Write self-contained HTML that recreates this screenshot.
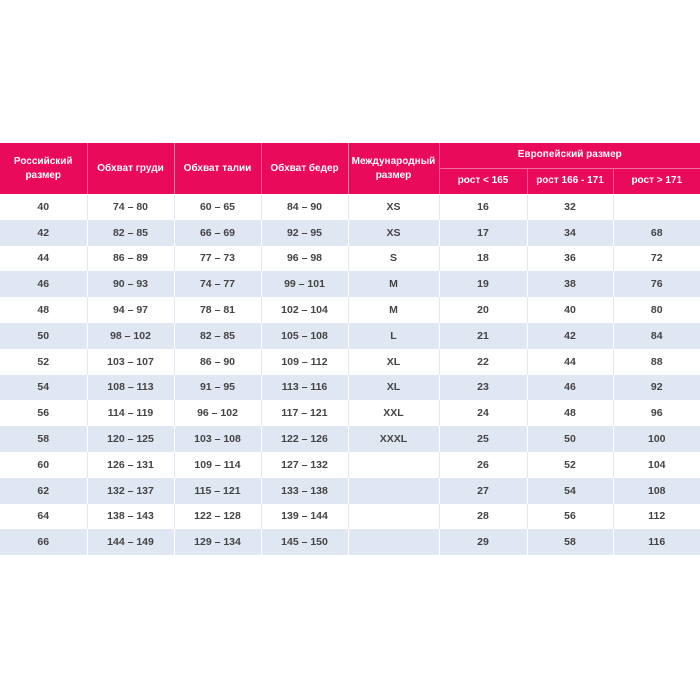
<!DOCTYPE html><html><head><meta charset="utf-8"><style>
body{margin:0;width:700px;height:700px;background:#fff;font-family:"Liberation Sans",sans-serif;}
table{position:absolute;left:0;top:143px;width:700px;border-collapse:collapse;table-layout:fixed;}
td,th{text-align:center;font-weight:bold;padding:0;}
th{background:#e90a5c;color:#fff;font-size:10px;border-left:1px solid #f2709f;line-height:14px}
th.f{border-left:none}
td{color:#444;font-size:10.5px;height:25.8px;border-left:1px solid #e4e8ee;}
td:first-child{border-left:none}
tr.s td{background:#dfe7f3;border-left-color:#fff}
</style></head><body>
<table>
<colgroup><col style="width:87px"><col style="width:87px"><col style="width:87px"><col style="width:87px"><col style="width:91px"><col style="width:88px"><col style="width:86px"><col style="width:87px"></colgroup>
<tr style="height:25px"><th class="f" rowspan="2" style="height:51px">Российский<br>размер</th><th rowspan="2">Обхват груди</th><th rowspan="2">Обхват талии</th><th rowspan="2">Обхват бедер</th><th rowspan="2">Международный<br>размер</th><th colspan="3" style="border-bottom:1px solid #f2709f">Европейский размер</th></tr>
<tr style="height:26px"><th>рост &lt; 165</th><th>рост 166 - 171</th><th>рост &gt; 171</th></tr>
<tr><td>40</td><td>74 – 80</td><td>60 – 65</td><td>84 – 90</td><td>XS</td><td>16</td><td>32</td><td></td></tr>
<tr class="s"><td>42</td><td>82 – 85</td><td>66 – 69</td><td>92 – 95</td><td>XS</td><td>17</td><td>34</td><td>68</td></tr>
<tr><td>44</td><td>86 – 89</td><td>77 – 73</td><td>96 – 98</td><td>S</td><td>18</td><td>36</td><td>72</td></tr>
<tr class="s"><td>46</td><td>90 – 93</td><td>74 – 77</td><td>99 – 101</td><td>M</td><td>19</td><td>38</td><td>76</td></tr>
<tr><td>48</td><td>94 – 97</td><td>78 – 81</td><td>102 – 104</td><td>M</td><td>20</td><td>40</td><td>80</td></tr>
<tr class="s"><td>50</td><td>98 – 102</td><td>82 – 85</td><td>105 – 108</td><td>L</td><td>21</td><td>42</td><td>84</td></tr>
<tr><td>52</td><td>103 – 107</td><td>86 – 90</td><td>109 – 112</td><td>XL</td><td>22</td><td>44</td><td>88</td></tr>
<tr class="s"><td>54</td><td>108 – 113</td><td>91 – 95</td><td>113 – 116</td><td>XL</td><td>23</td><td>46</td><td>92</td></tr>
<tr><td>56</td><td>114 – 119</td><td>96 – 102</td><td>117 – 121</td><td>XXL</td><td>24</td><td>48</td><td>96</td></tr>
<tr class="s"><td>58</td><td>120 – 125</td><td>103 – 108</td><td>122 – 126</td><td>XXXL</td><td>25</td><td>50</td><td>100</td></tr>
<tr><td>60</td><td>126 – 131</td><td>109 – 114</td><td>127 – 132</td><td></td><td>26</td><td>52</td><td>104</td></tr>
<tr class="s"><td>62</td><td>132 – 137</td><td>115 – 121</td><td>133 – 138</td><td></td><td>27</td><td>54</td><td>108</td></tr>
<tr><td>64</td><td>138 – 143</td><td>122 – 128</td><td>139 – 144</td><td></td><td>28</td><td>56</td><td>112</td></tr>
<tr class="s"><td>66</td><td>144 – 149</td><td>129 – 134</td><td>145 – 150</td><td></td><td>29</td><td>58</td><td>116</td></tr>
</table>
</body></html>
